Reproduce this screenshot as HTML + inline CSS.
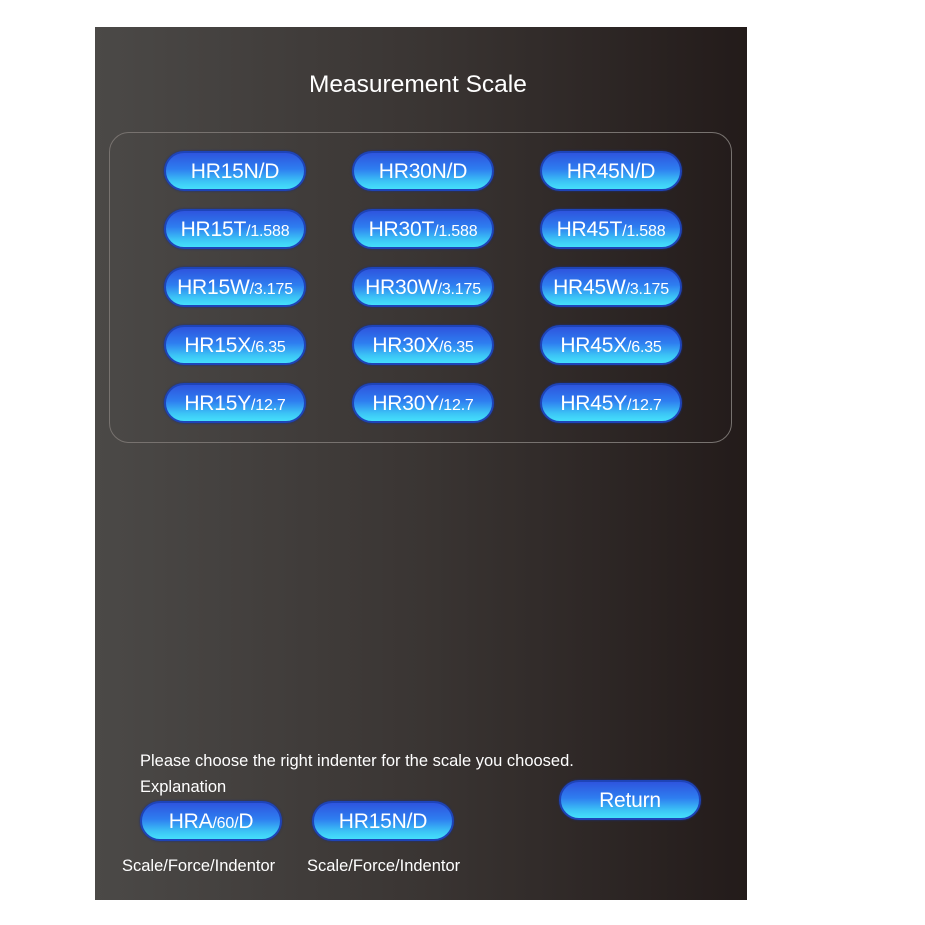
<!DOCTYPE html>
<html><head><style>
body{margin:0;width:925px;height:925px;background:#fff;position:relative;overflow:hidden;font-family:"Liberation Sans",sans-serif}
#p{position:absolute;left:95px;top:27px;width:652px;height:873px;background:linear-gradient(90deg,#4b4947 0%,#3a3533 50%,#231b1a 100%)}
.t{position:absolute;color:#fff;white-space:nowrap}
.box{position:absolute;left:109px;top:132px;width:621px;height:309px;border:1px solid #77726f;border-radius:20px}
.b{position:absolute;width:138px;height:36px;border:2px solid #1e44b8;border-radius:20px;background:linear-gradient(180deg,#2e55de 0%,#2e7ef0 45%,#3cc6f6 80%,#45e0fb 100%);color:#fff;font-size:21px;text-align:center;line-height:38px;box-shadow:0 0 2px #1a2f80;letter-spacing:-0.2px}
.b small{font-size:16px}
</style></head><body>
<div id="p"></div>
<div class="t" style="left:309px;top:71px;font-size:24.5px">Measurement Scale</div>
<div class="box"></div>
<div class="b" style="left:164px;top:151px">HR15N/D</div>
<div class="b" style="left:352px;top:151px">HR30N/D</div>
<div class="b" style="left:540px;top:151px">HR45N/D</div>
<div class="b" style="left:164px;top:209px">HR15T<small>/1.588</small></div>
<div class="b" style="left:352px;top:209px">HR30T<small>/1.588</small></div>
<div class="b" style="left:540px;top:209px">HR45T<small>/1.588</small></div>
<div class="b" style="left:164px;top:267px">HR15W<small>/3.175</small></div>
<div class="b" style="left:352px;top:267px">HR30W<small>/3.175</small></div>
<div class="b" style="left:540px;top:267px">HR45W<small>/3.175</small></div>
<div class="b" style="left:164px;top:325px">HR15X<small>/6.35</small></div>
<div class="b" style="left:352px;top:325px">HR30X<small>/6.35</small></div>
<div class="b" style="left:540px;top:325px">HR45X<small>/6.35</small></div>
<div class="b" style="left:164px;top:383px">HR15Y<small>/12.7</small></div>
<div class="b" style="left:352px;top:383px">HR30Y<small>/12.7</small></div>
<div class="b" style="left:540px;top:383px">HR45Y<small>/12.7</small></div>
<div class="t" style="left:140px;top:752px;font-size:16.5px">Please choose the right indenter for the scale you choosed.</div>
<div class="t" style="left:140px;top:778px;font-size:16.5px">Explanation</div>
<div class="b" style="left:140px;top:801px">HRA<small>/60/</small>D</div>
<div class="b" style="left:312px;top:801px">HR15N/D</div>
<div class="b" style="left:559px;top:780px">Return</div>
<div class="t" style="left:122px;top:857px;font-size:16.5px">Scale/Force/Indentor</div>
<div class="t" style="left:307px;top:857px;font-size:16.5px">Scale/Force/Indentor</div>
</body></html>
